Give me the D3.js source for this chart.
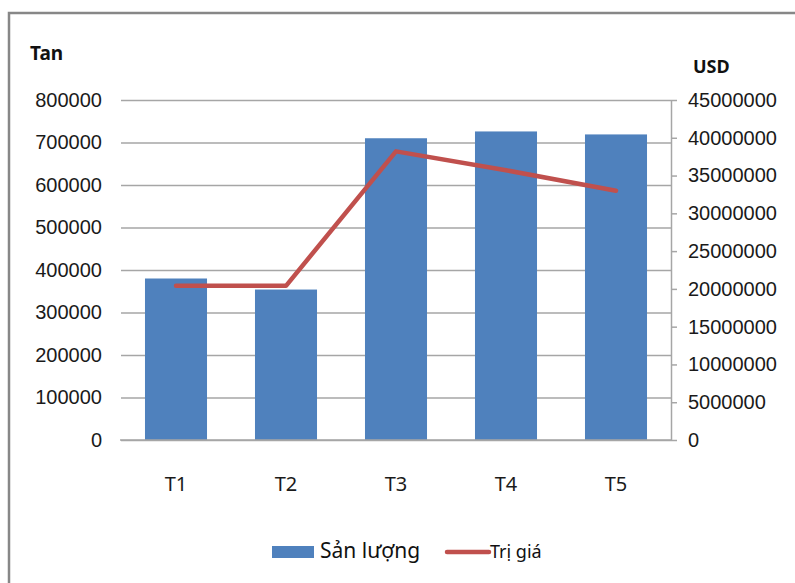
<!DOCTYPE html>
<html>
<head>
<meta charset="utf-8">
<script src="https://cdn.jsdelivr.net/npm/d3@7.8.5/dist/d3.min.js"></script>
<style>
  body { margin: 0; background: #fff; }
  svg { display: block; font-family: "Noto Sans", "Open Sans", sans-serif; }
</style>
</head>
<body>
<div id="chart"></div>
<script>
// Data
const months = ['T1', 'T2', 'T3', 'T4', 'T5'];
const sanLuong = [380000, 354000, 710000, 726000, 719000];   // Tan (bars, left axis)
const triGia = [20400000, 20400000, 38200000, 35700000, 33000000]; // USD (line, right axis)
const leftTicks = [0, 100000, 200000, 300000, 400000, 500000, 600000, 700000, 800000];
const rightTicks = [0, 5000000, 10000000, 15000000, 20000000, 25000000, 30000000, 35000000, 40000000, 45000000];

const width = 795, height = 583;
const plot = { left: 121, right: 671, top: 100, bottom: 440 };
const barColor = '#4F81BD', lineColor = '#C0504D', gridColor = '#a6a6a6';

const svg = d3.select('#chart').append('svg')
    .attr('width', width)
    .attr('height', height);

// outer frame (only top and left edges are visible in the original)
svg.append('rect')
    .attr('x', 9).attr('y', 13)
    .attr('width', 820).attr('height', 620)
    .attr('fill', 'none')
    .attr('stroke', '#878787')
    .attr('stroke-width', 2.5);

const x = d3.scaleBand()
    .domain(months)
    .range([plot.left, plot.right])
    .paddingInner(0.436)
    .paddingOuter(0.218);

const yL = d3.scaleLinear().domain([0, 800000]).range([plot.bottom, plot.top]);
const yR = d3.scaleLinear().domain([0, 45000000]).range([plot.bottom, plot.top]);

// left axis + gridlines
const leftAxis = svg.append('g')
    .attr('transform', `translate(${plot.left},0)`)
    .call(d3.axisLeft(yL).tickValues(leftTicks).tickFormat(d3.format('d'))
        .tickSize(-(plot.right - plot.left)).tickPadding(19));
leftAxis.select('.domain').remove();
leftAxis.selectAll('.tick line').attr('stroke', gridColor).attr('stroke-width', 1.5);
leftAxis.selectAll('.tick text')
    .attr('fill', '#1a1a1a')
    .style('font-size', '20px');

// bars
svg.append('g').selectAll('rect')
    .data(sanLuong)
    .enter()
    .append('rect')
    .attr('x', (d, i) => x(months[i]))
    .attr('y', d => yL(d))
    .attr('width', x.bandwidth())
    .attr('height', d => yL(0) - yL(d))
    .attr('fill', barColor);

// bottom axis line
svg.append('line')
    .attr('x1', plot.left - 1).attr('x2', plot.right)
    .attr('y1', plot.bottom).attr('y2', plot.bottom)
    .attr('stroke', gridColor).attr('stroke-width', 1.5);

// category labels
svg.append('g').selectAll('text')
    .data(months)
    .enter()
    .append('text')
    .attr('x', d => x(d) + x.bandwidth() / 2)
    .attr('y', 491)
    .attr('text-anchor', 'middle')
    .attr('fill', '#1a1a1a')
    .style('font-size', '20px')
    .text(d => d);

// right axis
const rightAxis = svg.append('g')
    .attr('transform', `translate(${plot.right},0)`)
    .call(d3.axisRight(yR).tickValues(rightTicks).tickFormat(d3.format('d'))
        .tickSize(6).tickSizeOuter(0).tickPadding(11));
rightAxis.select('.domain').attr('stroke', gridColor).attr('stroke-width', 1.5);
rightAxis.selectAll('.tick line').attr('stroke', gridColor).attr('stroke-width', 1.5);
rightAxis.selectAll('.tick text')
    .attr('fill', '#1a1a1a')
    .style('font-size', '20px');

// line series
const line = d3.line()
    .x((d, i) => x(months[i]) + x.bandwidth() / 2)
    .y(d => yR(d));

svg.append('path')
    .datum(triGia)
    .attr('d', line)
    .attr('fill', 'none')
    .attr('stroke', lineColor)
    .attr('stroke-width', 4.5)
    .attr('stroke-linecap', 'round')
    .attr('stroke-linejoin', 'round');

// axis titles
svg.append('text')
    .attr('x', 30).attr('y', 60)
    .attr('font-weight', 'bold')
    .style('font-size', '19px')
    .attr('fill', '#111')
    .text('Tan');

svg.append('text')
    .attr('x', 693).attr('y', 73)
    .attr('font-weight', 'bold')
    .style('font-size', '18px')
    .attr('fill', '#111')
    .text('USD');

// legend
const legend = svg.append('g');
legend.append('rect')
    .attr('x', 272).attr('y', 546)
    .attr('width', 42).attr('height', 12)
    .attr('fill', barColor);
legend.append('text')
    .attr('x', 320).attr('y', 558)
    .style('font-size', '21px')
    .attr('fill', '#111')
    .text('Sản lượng');
legend.append('line')
    .attr('x1', 447).attr('x2', 489)
    .attr('y1', 552).attr('y2', 552)
    .attr('stroke', lineColor)
    .attr('stroke-width', 4.5)
    .attr('stroke-linecap', 'round');
legend.append('text')
    .attr('x', 490).attr('y', 558)
    .style('font-size', '18px')
    .attr('fill', '#111')
    .text('Trị giá');
</script>
</body>
</html>
